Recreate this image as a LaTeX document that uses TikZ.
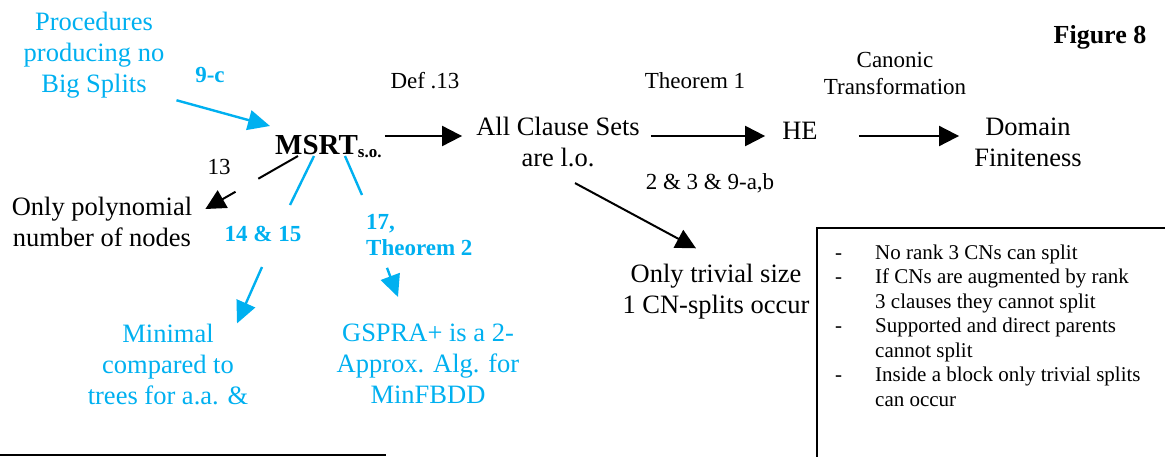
\documentclass[tikz,border=0pt]{standalone}
\usepackage{fontspec}
\setmainfont{Liberation Serif}
\usepackage{xcolor}
\usepackage{tikz}
\usetikzlibrary{arrows.meta}

\definecolor{skyblue}{RGB}{0,176,240}

\begin{document}
\begin{tikzpicture}[x=1pt,y=-1pt]
      \tikzstyle{txt}=[align=center, inner sep=0pt, font=\fontsize{26.5}{31}\selectfont]
      \tikzstyle{txt_blue}=[txt, text=skyblue]
      \tikzstyle{lbl}=[inner sep=0pt, anchor=base, font=\fontsize{23}{27}\selectfont]
      \tikzstyle{lbl_blue}=[inner sep=0pt, text=skyblue, font=\fontsize{23}{26}\selectfont\bfseries]
      \tikzstyle{link}=[line width=2pt]
      \tikzstyle{arr}=[link, -{Triangle[length=20pt,width=20pt]}]
      \tikzstyle{link_blue}=[draw=skyblue, line width=2.4pt]
      \tikzstyle{arr_blue}=[link_blue, -{Triangle[length=22pt,width=20pt]}]

      \clip (0,0) rectangle (1165,456);

      % main chain
      \node [txt_blue] (proc) at (94,55) {Procedures\\producing no\\Big Splits};
      \node [lbl_blue, anchor=base] (c9) at (210,82) {9-c};
      \node [inner sep=0pt, anchor=base west, font=\fontsize{29}{34}\selectfont\bfseries] (msrt) at (275,154)
            {MSRT\raisebox{-3pt}{\fontsize{17}{17}\selectfont s.o.}};
      \node [txt] (allcs) at (558,142) {All Clause Sets\\are l.o.};
      \node [lbl, font=\fontsize{26.5}{31}\selectfont] (he) at (800,139) {HE};
      \node [txt] (domain) at (1028,142) {Domain\\Finiteness};

      \node [lbl] (def13) at (425,88) {Def .13};
      \node [lbl] (thm1) at (695,88) {Theorem 1};
      \node [txt, font=\fontsize{23}{27}\selectfont] (canonic) at (895,73) {Canonic\\Transformation};
      \node [lbl, font=\fontsize{26}{31}\selectfont\bfseries] (fig) at (1100,43) {Figure 8};
      \node [lbl] (l23) at (710,189) {2 \& 3 \& 9-a,b};
      \node [lbl] (l13) at (219,174) {13};

      % results
      \node [txt] (poly) at (102,222) {Only polynomial\\number of nodes};
      \node [lbl_blue, anchor=base] (l1415) at (263,241) {14 \& 15};
      \node [lbl_blue, anchor=north west, align=left] (l17) at (366,214) {17,\\Theorem 2};
      \node [txt_blue] (minimal) at (168,364) {Minimal\\compared to\\trees for a.a. \&};
      \node [txt_blue] (gspra) at (428,364) {GSPRA+ is a 2-\\Approx. Alg. for\\MinFBDD};
      \node [txt] (trivial) at (716,292) {Only trivial size\\1 CN-splits occur};

      % notes box
      \node [draw, line width=2pt, inner sep=0pt, minimum width=360pt, minimum height=250pt, anchor=north west] (box) at (816,227) {};
      \node [inner sep=0pt, anchor=base west, font=\fontsize{21}{24.5}\selectfont] (notes) at (835,259)
            {\begin{tabular}[t]{@{}p{40pt}@{}l@{}}
             - & No rank 3 CNs can split\\
             - & If CNs are augmented by rank\\
               & 3 clauses they cannot split\\
             - & Supported and direct parents\\
               & cannot split\\
             - & Inside a block only trivial splits\\
               & can occur
             \end{tabular}};

      % connectors
      \draw [arr_blue] ([xshift=12pt,yshift=-2pt]proc.south east) -- ([xshift=-5pt,yshift=28pt]msrt.base west);
      \draw [arr, shorten <=3pt, shorten >=14pt] ([yshift=6pt]allcs.west -| msrt.east) -- ([yshift=6pt]allcs.west);
      \draw [arr, shorten <=11pt, shorten >=17pt] ([yshift=6pt]allcs.east) -- ([yshift=6pt]allcs.east -| he.west);
      \draw [arr, shorten <=41pt, shorten >=15pt] ([yshift=6pt]domain.west -| he.east) -- ([yshift=6pt]domain.west);

      \draw [link, shorten >=61pt] ([xshift=23pt,yshift=-2pt]msrt.base west) -- ([xshift=13pt,yshift=13pt]poly.east);
      \draw [arr, shorten <=72pt] ([xshift=23pt,yshift=-2pt]msrt.base west) -- ([xshift=13pt,yshift=13pt]poly.east);

      \draw [link_blue] ([xshift=39pt,yshift=-2pt]msrt.base west) -- ([xshift=27pt,yshift=36pt]l1415.base);
      \draw [arr_blue] ([xshift=-1pt,yshift=-26pt]l1415.base) -- ([xshift=69pt]minimal.north);

      \draw [link_blue] ([xshift=70pt,yshift=-2pt]msrt.base west) -- ([xshift=-4pt,yshift=19pt]l17.north west);
      \draw [arr_blue] ([xshift=21pt,yshift=-12pt]l17.south west) -- ([xshift=-30pt,yshift=27pt]gspra.north);

      \draw [arr] ([xshift=17pt,yshift=-16pt]allcs.south) -- ([xshift=-20pt,yshift=16pt]trivial.north);

      \draw [link] (0,455) -- (386,455);
\end{tikzpicture}
\end{document}
